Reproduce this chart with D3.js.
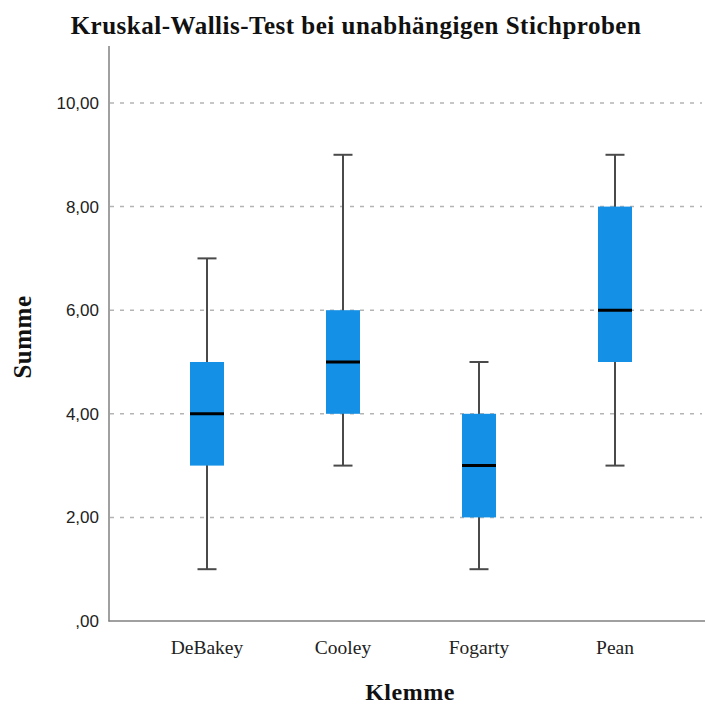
<!DOCTYPE html>
<html><head><meta charset="utf-8">
<script src="https://cdnjs.cloudflare.com/ajax/libs/d3/7.8.5/d3.min.js"></script>
<style>body{margin:0;background:#fff}svg{display:block}</style>
</head><body>
<script>
const categories = ["DeBakey","Cooley","Fogarty","Pean"];
const whiskerLow = [1,3,1,3];
const q1 = [3,4,2,5];
const median = [4,5,3,6];
const q3 = [5,6,4,8];
const whiskerHigh = [7,9,5,9];
const yTicks = [0,2,4,6,8,10];
const tickLabels = [",00","2,00","4,00","6,00","8,00","10,00"];

const W=706,H=705;
const svg=d3.select("body").append("svg").attr("width",W).attr("height",H);
const x=d3.scaleBand().domain(categories).range([139,683]).padding(0);
const y=d3.scaleLinear().domain([0,11.1]).range([621,46]);
const boxW=34, capW=19;

// gridlines
svg.append("g").selectAll("line").data(yTicks.filter(d=>d>0)).join("line")
  .attr("x1",110).attr("x2",702).attr("y1",d=>y(d)).attr("y2",d=>y(d))
  .attr("stroke","#b4b4b4").attr("stroke-width",1.5).attr("stroke-dasharray","4,6");

// y axis
const yAxis=d3.axisLeft(y).tickValues(yTicks).tickFormat((d,i)=>tickLabels[i]).tickSize(0).tickPadding(10);
const gy=svg.append("g").attr("transform","translate(109,0)").call(yAxis);
gy.select(".domain").remove();
gy.selectAll("text").attr("font-family","Liberation Sans, Arial, sans-serif").attr("font-size",17).attr("fill","#222");

// x axis
const xAxis=d3.axisBottom(x).tickSize(0).tickPadding(19);
const gx=svg.append("g").attr("transform","translate(0,621)").call(xAxis);
gx.select(".domain").remove();
gx.selectAll("text").attr("font-family","Liberation Serif, Times New Roman, serif").attr("font-size",19.5).attr("fill","#222");

// axis lines
svg.append("line").attr("x1",109).attr("x2",109).attr("y1",y(11.1)).attr("y2",621.5).attr("stroke","#808080").attr("stroke-width",1.5);
svg.append("line").attr("x1",108.5).attr("x2",705).attr("y1",621).attr("y2",621).attr("stroke","#808080").attr("stroke-width",1.5);

// boxes
const data=categories.map((c,i)=>({c,lo:whiskerLow[i],q1:q1[i],med:median[i],q3:q3[i],hi:whiskerHigh[i]}));
const g=svg.append("g").selectAll("g").data(data).join("g")
  .attr("transform",d=>`translate(${x(d.c)+x.bandwidth()/2},0)`);
g.append("line").attr("x1",0).attr("x2",0).attr("y1",d=>y(d.lo)).attr("y2",d=>y(d.hi)).attr("stroke","#4a4a4a").attr("stroke-width",2);
g.append("line").attr("x1",-capW/2).attr("x2",capW/2).attr("y1",d=>y(d.lo)).attr("y2",d=>y(d.lo)).attr("stroke","#4a4a4a").attr("stroke-width",2);
g.append("line").attr("x1",-capW/2).attr("x2",capW/2).attr("y1",d=>y(d.hi)).attr("y2",d=>y(d.hi)).attr("stroke","#4a4a4a").attr("stroke-width",2);
g.append("rect").attr("x",-boxW/2).attr("width",boxW).attr("y",d=>y(d.q3)).attr("height",d=>y(d.q1)-y(d.q3)).attr("fill","#1490e6");
g.append("line").attr("x1",-boxW/2).attr("x2",boxW/2).attr("y1",d=>y(d.med)).attr("y2",d=>y(d.med)).attr("stroke","#000").attr("stroke-width",3);

// titles
svg.append("text").attr("x",356).attr("y",34).attr("text-anchor","middle")
  .attr("font-family","Liberation Serif, Times New Roman, serif").attr("font-weight","bold").attr("font-size",25).attr("letter-spacing",0.5).attr("fill","#111")
  .text("Kruskal-Wallis-Test bei unabhängigen Stichproben");
svg.append("text").attr("transform","translate(31,337) rotate(-90)").attr("text-anchor","middle")
  .attr("font-family","Liberation Serif, Times New Roman, serif").attr("font-weight","bold").attr("font-size",25).attr("letter-spacing",0.5).attr("fill","#111")
  .text("Summe");
svg.append("text").attr("x",410).attr("y",700).attr("text-anchor","middle")
  .attr("font-family","Liberation Serif, Times New Roman, serif").attr("font-weight","bold").attr("font-size",24).attr("letter-spacing",0.5).attr("fill","#111")
  .text("Klemme");
</script>
</body></html>
